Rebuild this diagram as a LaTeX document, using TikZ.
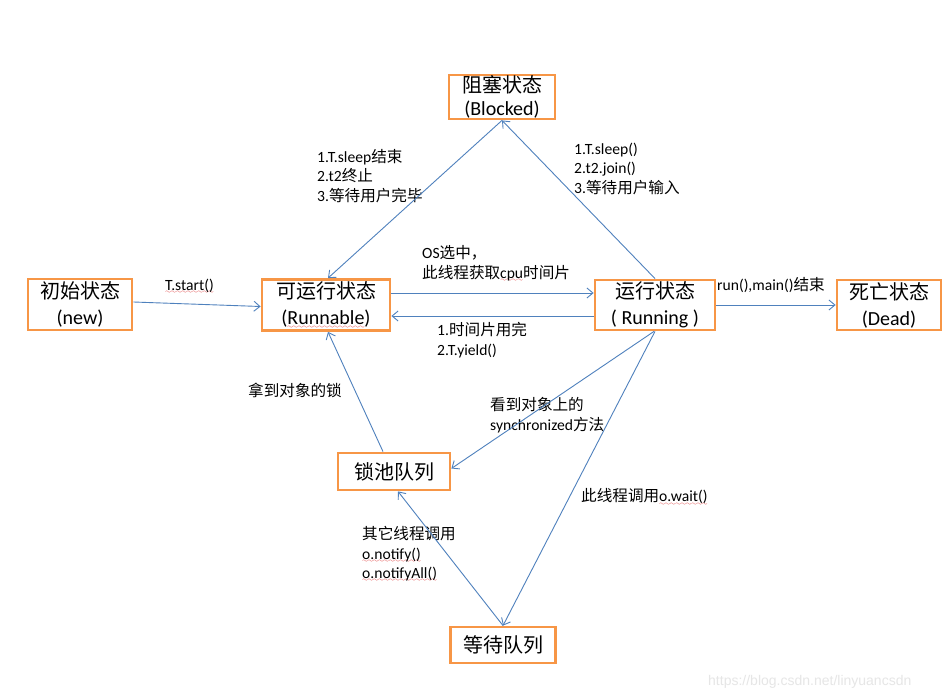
\documentclass[tikz,border=0pt]{standalone}
\usepackage{fontspec}
\setmainfont{Carlito}
\newfontfamily\cjk{Noto Sans CJK SC}
\newfontfamily\wmfont{Liberation Sans}
\usetikzlibrary{arrows.meta}
\newcommand\zh[1]{{\cjk #1}}
\font\wavyfont=lasy6
\newcommand\rwave[1]{\leavevmode\setbox0\hbox{#1}\rlap{\textcolor{wavered}{\lower3.2pt\hbox to\wd0{\xleaders\hbox{\wavyfont\char58}\hfil}}}\box0}
\definecolor{boxorange}{RGB}{247,150,70}
\definecolor{arrblue}{RGB}{79,129,189}
\definecolor{wmgray}{RGB}{230,230,230}
\definecolor{wavered}{RGB}{220,20,20}
\tikzset{
  state/.style={draw=boxorange, line width=2.8pt, fill=white, inner sep=0pt, align=center, font=\fontsize{20}{26}\selectfont},
  lbl/.style={inner sep=0pt, anchor=west, align=left, font=\fontsize{15.6}{19.5}\selectfont},
  wm/.style={inner sep=0pt, anchor=west, text=wmgray, font=\wmfont\fontsize{14}{16}\selectfont},
  arr/.style={draw=arrblue, line width=0.9pt, -{Straight Barb[length=6pt,width=10pt]}}
}
\begin{document}
\begin{tikzpicture}[x=1pt,y=-1pt]
\useasboundingbox (0,0) rectangle (949,700);
\fill[white] (0,0) rectangle (949,700);
% states
\node[state, minimum width=104pt, minimum height=51pt] (new) at (80,304.5) {\zh{初始状态}\\(new)};
\node[state, minimum width=128pt, minimum height=51pt] (runnable) at (326,305) {\zh{可运行状态}\\(\rwave{Runnable} )};
\node[state, minimum width=106pt, minimum height=44pt, font=\fontsize{20}{23.5}\selectfont] (blocked) at (502,97) {\zh{阻塞状态}\\(Blocked)};
\node[state, minimum width=120pt, minimum height=50pt] (running) at (655,305) {\zh{运行状态}\\( Running )};
\node[state, minimum width=104pt, minimum height=50pt] (dead) at (889,305) {\zh{死亡状态}\\(Dead)};
\node[state, minimum width=112pt, minimum height=37pt] (lockpool) at (394,471.5) {\zh{锁池队列}};
\node[state, minimum width=105pt, minimum height=36pt] (waitq) at (503,645) {\zh{等待队列}};
% labels
\node[lbl] (lstart) at (165,286) {\rwave{T.start()}};
\node[lbl] (lwake) at (317,176) {1.T.sleep\zh{结束}\\2.t2\zh{终止}\\3.\zh{等待用户完毕}};
\node[lbl] (lsleep) at (574,168.5) {1.T.sleep()\\2.t2.join()\\3.\zh{等待用户输入}};
\node[lbl] (los) at (422,263.5) {OS\zh{选中，}\\\zh{此线程获取}\rwave{cpu}\zh{时间片}};
\node[lbl] (lyield) at (437,340) {1.\zh{时间片用完}\\2.T.yield()};
\node[lbl] (lend) at (717,285) {run(),main()\zh{结束}};
\node[lbl] (llock) at (248,390) {\zh{拿到对象的锁}};
\node[lbl] (lsync) at (490,415) {\zh{看到对象上的}\\synchronized\zh{方法}};
\node[lbl] (lwait) at (581,497) {\zh{此线程调用}\rwave{o.wait()}};
\node[lbl] (lnotify) at (362,554) {\zh{其它线程调用}\\\rwave{o.notify()}\\\rwave{o.notifyAll()}};
\node[wm] (watermark) at (708,682) {https://blog.csdn.net/linyuancsdn};
% connectors
\draw[arr] ([yshift=2.5pt]new.east) -- ([yshift=-1.5pt]runnable.west);
\draw[arr] ([yshift=12pt]runnable.east) -- ([yshift=12pt]running.west);
\draw[arr] ([yshift=-11pt]running.west) -- ([yshift=-11pt]runnable.east);
\draw[arr] (running.east) -- (dead.west);
\draw[arr] (blocked.south) -- ([xshift=2pt]runnable.north);
\draw[arr] (running.north) -- (blocked.south);
\draw[arr] ([xshift=-1pt]running.south) -- ([yshift=3pt]lockpool.east);
\draw[arr] (running.south) -- (waitq.north);
\draw[arr] (waitq.north) -- ([xshift=4pt]lockpool.south);
\draw[arr] ([xshift=-11pt]lockpool.north) -- ([xshift=2pt]runnable.south);
\end{tikzpicture}
\end{document}
